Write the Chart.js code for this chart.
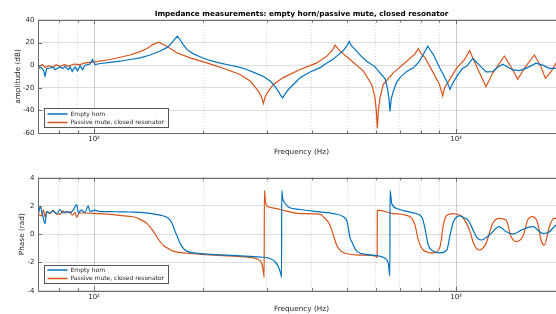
<!DOCTYPE html>
<html>
<head>
<meta charset="utf-8">
<script src="https://cdn.jsdelivr.net/npm/chart.js@4.4.1/dist/chart.umd.min.js"></script>
<style>
  html, body { margin: 0; padding: 0; background: #fff; overflow: hidden; }
  body { width: 556px; height: 314px; position: relative; }
  .panel { position: absolute; left: 0; width: 580px; }
  #top { top: 0; height: 160px; }
  #bottom { top: 157px; height: 157px; }
</style>
</head>
<body>
<div class="panel" id="top"><canvas id="ampChart"></canvas></div>
<div class="panel" id="bottom"><canvas id="phaseChart"></canvas></div>
<script>
// amplitude (dB), empty horn
const ampFreqEmpty = [70.3, 71.5, 72.5, 73.2, 74, 75.6, 77, 78, 80.5, 82, 83.2, 85, 85.9, 87, 88.6, 90, 91.5, 93, 94.4, 97.5, 99, 100.6, 103.9, 110.7, 118, 125.7, 134, 142.8, 152.2, 158.8, 162.2, 166, 169.9, 172.8, 176.5, 181, 188.1, 196.3, 204.8, 218.7, 232.6, 253.1, 264.1, 281.5, 293.6, 306.4, 312.9, 322.9, 328, 332.1, 336, 344.2, 363.1, 370.9, 395.2, 421.1, 439.4, 458.3, 468.2, 488.4, 500, 507.4, 513, 526, 545, 566.7, 597.3, 616.6, 637, 645.9, 652, 657.1, 662, 671, 685.7, 700.2, 730.7, 762.1, 790, 812.2, 835.2, 850, 865.5, 900, 922.3, 945, 962.6, 975, 1000, 1040, 1070, 1112, 1160, 1210, 1263, 1300, 1346, 1435, 1496, 1561, 1663, 1736, 1810, 1889, 2000];
const ampEmpty = [-3, -2, -4.5, -9.5, -3, -2.5, -1.5, -4, -1.5, -3, -1, -4, -1.5, -5.5, -1.5, -5, -0.5, -4, 0, 1, 5, 0.5, 1.5, 2.5, 3.5, 5, 6.5, 9, 12.5, 15.5, 18, 22, 25.7, 22.5, 18, 13.5, 10, 7.5, 5, 2.5, 0.6, -2, -3.8, -7.5, -10, -14, -17, -23, -27, -29, -26, -21.5, -14, -11, -6, -2.2, 2, 5.5, 8, 13, 17.5, 21, 17.5, 14, 8.5, 3.5, -1.5, -6.8, -12, -20, -28, -40.7, -30, -23, -15, -11, -5.5, -2.4, 3, 9.4, 16.8, 13, 9.4, -2, -8.3, -15, -21.5, -17, -11, -3, -1, 6, 0, -6, -5.7, -2, 0.8, -4.2, -4.8, -2.8, 1.7, 0, -2.8, -2.8, -2];

// amplitude (dB), passive mute
const ampFreqMute = [70.3, 72, 73.2, 75, 77, 78.5, 80.5, 83, 85, 88, 91.5, 94.4, 100.6, 110.7, 118, 125.7, 134, 140.1, 145, 150.5, 155, 158.8, 169.2, 184.2, 204.8, 232.6, 253.1, 269.8, 284.4, 290, 293.6, 297, 303.1, 312.9, 333, 370.9, 412.4, 439.4, 455, 463.2, 478.2, 509.6, 554.6, 584.9, 597.3, 602, 606.1, 610, 616.6, 629.7, 671, 730.7, 770, 786.7, 800, 821, 865.5, 900, 918.8, 930, 942.4, 1004.5, 1054, 1090, 1136, 1210, 1263, 1360, 1435, 1481, 1544, 1646, 1717, 1765, 1830, 1889, 2000];
const ampMute = [-1.5, 0.5, -2, -0.5, -2, 0.5, -1, 0.5, -1, 1, 0.5, 2, 3, 5, 7, 9, 12, 14.7, 18, 20.3, 18.5, 16.8, 11, 6.5, 2, -3.8, -8.3, -14, -23, -28, -34, -28, -23, -17, -11, -3.8, 2, 8, 13, 17.7, 12.4, 5, -5.3, -17, -29, -40, -56, -40, -29, -17, -6.8, 3.5, 10, 14.7, 10.5, 6.5, -6.8, -17, -27.4, -20, -17, -2.4, 4.6, 12.9, 0, -19, -7, 8.1, -4.2, -12.5, -2.8, 9, -1.3, -11.7, -5.7, 1.7, 9];

// phase (rad), empty horn
const phaseFreqEmpty = [70.3, 71, 72, 73.2, 74, 75.6, 77, 79, 80.5, 82, 84, 85.9, 87.5, 89.6, 90.5, 92, 94.4, 96.3, 97.5, 100.6, 103.9, 110.7, 118, 125.7, 134, 142.8, 152.2, 158.8, 162.2, 165.3, 167.4, 169.2, 172.8, 176.5, 180.3, 188.1, 204.8, 253.1, 287.5, 306.4, 316.2, 322.9, 327.9, 329.5, 330, 332, 334.9, 344.2, 370.9, 421.1, 458.3, 488.4, 500, 504.2, 509, 515.2, 531.8, 566.7, 616.6, 636.6, 650.1, 656.5, 657.1, 664.3, 685.7, 762.1, 803.8, 821, 838.4, 865.5, 903.2, 942.4, 962.6, 982.9, 1025.6, 1054, 1080, 1105, 1141, 1173, 1236, 1317, 1375, 1435, 1529, 1629, 1736, 1792, 1889, 2000];
const phaseEmpty = [1.5, 1.95, 1.4, 0.75, 1.6, 1.5, 1.65, 1.45, 1.75, 1.5, 1.6, 1.5, 1.7, 2.1, 1.5, 1.7, 1.55, 2.0, 1.6, 1.7, 1.6, 1.6, 1.58, 1.57, 1.55, 1.48, 1.35, 1.2, 1.0, 0.6, 0.2, -0.06, -0.65, -1.0, -1.2, -1.32, -1.41, -1.53, -1.62, -1.72, -1.95, -2.3, -2.8, -3.05, 3.1, 2.5, 2.3, 1.93, 1.75, 1.58, 1.46, 1.23, 0.9, 0.4, -0.2, -0.54, -1.2, -1.44, -1.56, -1.72, -2.07, -2.95, 3.1, 2.17, 1.82, 1.51, 1.23, 0.4, -0.78, -1.2, -1.32, -1.13, -0.07, 0.87, 1.3, 1.15, 1.0, 0.5, -0.2, -0.41, -0.06, 0.53, 0.18, 0, 0.34, 0.53, 0.06, 0.1, 0.65, 1.0];

// phase (rad), passive mute
const phaseFreqMute = [70.3, 71.5, 72.5, 73.2, 74, 75.6, 77, 78, 80.5, 82, 83.2, 85.9, 87, 88.6, 89.6, 91, 94.4, 100.6, 110.7, 118, 123.1, 130, 134, 140.1, 145.8, 150.5, 155.4, 160, 165.3, 180.3, 204.8, 242.1, 269.8, 281.5, 290.6, 294.5, 295, 295.5, 297.2, 300, 306.4, 326.5, 370.9, 421.1, 430, 448.7, 458.3, 468.2, 488.4, 543, 597.3, 603.8, 605.5, 606.1, 608, 671, 746.2, 770.3, 786.7, 812.2, 865.5, 903.2, 922.3, 942.4, 982.9, 1000, 1043, 1093, 1116, 1160, 1210, 1263, 1317, 1375, 1419, 1465, 1529, 1578, 1629, 1682, 1717, 1754, 1810, 1865, 1889, 2000];
const phaseMute = [1.4, 1.3, 1.7, 1.2, 1.6, 1.45, 1.7, 1.5, 1.4, 1.65, 1.5, 1.6, 1.35, 1.55, 1.2, 1.5, 1.5, 1.47, 1.4, 1.33, 1.28, 1.2, 1.05, 0.75, 0.2, -0.35, -0.8, -1.0, -1.2, -1.35, -1.45, -1.55, -1.65, -1.75, -2.07, -2.9, -3.05, 3.1, 2.4, 2.0, 1.9, 1.75, 1.46, 1.42, 1.23, 0.64, -0.07, -0.78, -1.3, -1.48, -1.53, -1.6, -1.65, 1.63, 1.7, 1.46, 1.23, 0.64, -0.42, -1.13, -1.32, -0.9, 0.64, 1.34, 1.46, 1.43, 1.2, 0.2, -0.6, -1.12, -0.65, 0.77, 1.12, 1.0, -0.17, -0.53, -0.17, 1.0, 1.24, 0.77, -0.41, -0.77, 0.53, 1.12, 1.12, 1.2];

const freqTicks = [70, 80, 90, 100, 200, 300, 400, 500, 600, 700, 800, 900, 1000, 2000];
const freqLabels = { 100: '10\u00b2', 1000: '10\u00b3' };
const ampTicks = [-60, -40, -20, 0, 20, 40];
const phaseTicks = [-4, -2, 0, 2, 4];
const seriesNames = ['Empty horn', 'Passive mute, closed resonator'];
const seriesColors = ['#0072BD', '#D95319'];

Chart.defaults.font.family = '"DejaVu Sans", sans-serif';
Chart.defaults.color = '#262626';

function pts(xs, ys) {
  return xs.map((x, i) => ({ x: x, y: ys[i] }));
}

// axes box, inner tick marks and the boxed legend (matlab style)
const frame = {
  id: 'frame',
  afterDraw(chart, args, opts) {
    const { ctx, chartArea: a, scales } = chart;
    ctx.save();
    ctx.strokeStyle = '#6a6a6a';
    ctx.lineWidth = 1;
    ctx.beginPath();
    freqTicks.forEach(v => {
      const px = Math.round(scales.x.getPixelForValue(v)) + 0.5;
      const len = freqLabels[v] ? 4 : 2.5;
      ctx.moveTo(px, a.bottom); ctx.lineTo(px, a.bottom - len);
      ctx.moveTo(px, a.top); ctx.lineTo(px, a.top + len);
    });
    scales.y.ticks.forEach(t => {
      const py = Math.round(scales.y.getPixelForValue(t.value)) + 0.5;
      ctx.moveTo(a.left, py); ctx.lineTo(a.left + 4, py);
    });
    ctx.stroke();
    ctx.strokeRect(Math.round(a.left) + 0.5, Math.round(a.top) + 0.5,
      Math.round(a.right - a.left), Math.round(a.bottom - a.top));

    // legend
    ctx.font = '6px "DejaVu Sans"';
    const names = chart.data.datasets.map(d => d.label);
    const tw = Math.max(...names.map(n => ctx.measureText(n).width));
    const lx = Math.round(a.left) + 6.5;
    const bh = opts.height;
    const by = Math.round(a.bottom - opts.bottom - bh) + 0.5;
    const bw = Math.round(27 + tw + 3);
    ctx.fillStyle = '#fff';
    ctx.fillRect(lx, by, bw, bh);
    ctx.strokeStyle = '#555';
    ctx.lineWidth = 1;
    ctx.strokeRect(lx, by, bw, bh);
    chart.data.datasets.forEach((ds, i) => {
      const yy = by + opts.first + i * opts.gap;
      ctx.strokeStyle = ds.borderColor;
      ctx.lineWidth = 1.5;
      ctx.beginPath();
      ctx.moveTo(lx + 3, yy); ctx.lineTo(lx + 23, yy);
      ctx.stroke();
      ctx.fillStyle = '#262626';
      ctx.textBaseline = 'middle';
      ctx.fillText(ds.label, lx + 26, yy);
    });
    ctx.restore();
  }
};

function panel(id, o) {
  return new Chart(document.getElementById(id), {
    type: 'line',
    data: {
      datasets: o.series.map((s, i) => ({
        label: seriesNames[i],
        data: pts(s[0], s[1]),
        borderColor: seriesColors[i],
        borderWidth: 1.2,
        pointRadius: 0,
        fill: false,
        tension: 0,
        cubicInterpolationMode: o.smooth ? 'monotone' : 'default'
      }))
    },
    options: {
      responsive: true,
      maintainAspectRatio: false,
      animation: false,
      devicePixelRatio: 1,
      layout: { padding: { top: o.padTop, right: 15, left: 0, bottom: 0 } },
      plugins: {
        legend: { display: false },
        tooltip: { enabled: false },
        title: o.title ? {
          display: true,
          text: o.title,
          fullSize: false,
          color: '#000',
          font: { size: 7.3, weight: 'bold' },
          padding: { top: 9.6, bottom: 1.6 }
        } : { display: false },
        frame: o.legend
      },
      scales: {
        x: {
          type: 'logarithmic',
          min: 70,
          max: 2000,
          afterBuildTicks: s => { s.ticks = freqTicks.map(v => ({ value: v })); },
          afterFit: s => { s.height = o.xHeight; },
          ticks: {
            autoSkip: false,
            maxRotation: 0,
            padding: 2,
            font: { size: 7 },
            callback: v => freqLabels[v] || ''
          },
          grid: {
            drawTicks: false,
            color: c => (c.tick && freqLabels[c.tick.value]) ? 'rgba(0,0,0,0.2)' : 'rgba(0,0,0,0.16)'
          },
          border: {
            display: false,
            dash: c => (c.tick && freqLabels[c.tick.value]) ? [] : [1, 2]
          },
          title: {
            display: true,
            text: 'Frequency (Hz)',
            font: { size: 7.3 },
            padding: { top: 0, bottom: o.xTitlePad }
          }
        },
        y: {
          min: o.yTicks[0],
          max: o.yTicks[o.yTicks.length - 1],
          afterBuildTicks: s => { s.ticks = o.yTicks.map(v => ({ value: v })); },
          afterFit: s => { s.width = 38; },
          ticks: { padding: 3.5, font: { size: 7 } },
          grid: { drawTicks: false, color: 'rgba(0,0,0,0.13)' },
          border: { display: false },
          title: {
            display: true,
            text: o.yTitle,
            font: { size: 7.3 },
            padding: { top: o.yTitlePad, bottom: 0 }
          }
        }
      }
    },
    plugins: [frame]
  });
}

panel('ampChart', {
  series: [[ampFreqEmpty, ampEmpty], [ampFreqMute, ampMute]],
  yTicks: ampTicks,
  yTitle: 'amplitude (dB)',
  yTitlePad: 13.6,
  title: 'Impedance measurements: empty horn/passive mute, closed resonator',
  padTop: 0,
  xHeight: 27,
  xTitlePad: 3.6,
  smooth: false,
  legend: { height: 19, bottom: 6, first: 5.5, gap: 8.5 }
});

panel('phaseChart', {
  series: [[phaseFreqEmpty, phaseEmpty], [phaseFreqMute, phaseMute]],
  yTicks: phaseTicks,
  yTitle: 'Phase (rad)',
  yTitlePad: 17.6,
  title: null,
  padTop: 20.7,
  xHeight: 23.3,
  xTitlePad: 0.6,
  smooth: true,
  legend: { height: 18, bottom: 7.5, first: 4.5, gap: 8.5 }
});
</script>
</body>
</html>
